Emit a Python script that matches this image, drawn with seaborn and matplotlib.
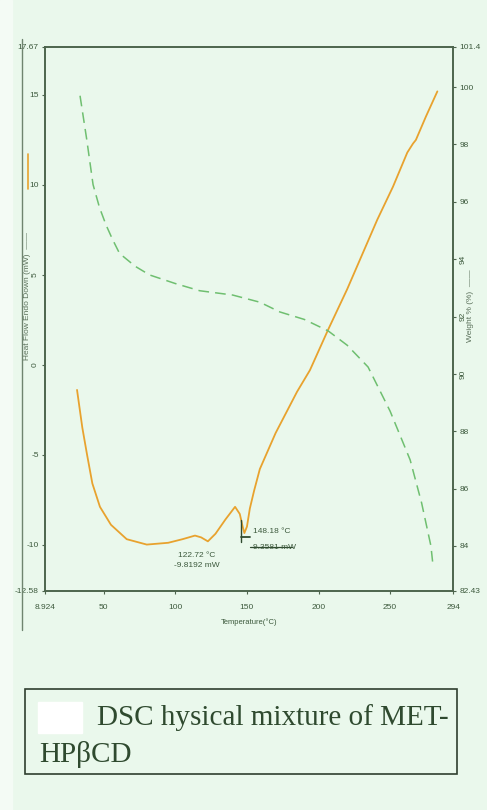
import matplotlib
matplotlib.use("Agg")
import matplotlib.pyplot as plt
from matplotlib.lines import Line2D
from matplotlib.patches import Rectangle
import numpy as np
import pandas as pd
import seaborn as sns

# heat flow (mW)
hf_temp = [31.3, 35, 38.3, 42, 47.3, 55, 66, 80, 95, 105, 113.7, 118, 122.7, 128, 135,
           141.7, 145, 147, 148.2, 150, 152, 155, 159, 170, 185, 194, 206.7, 220, 241,
           252, 262, 266, 268, 275, 283]
hf_value = [-1.4, -3.5, -5.0, -6.6, -7.9, -8.9, -9.7, -10.0, -9.9, -9.7, -9.5, -9.6, -9.82,
            -9.4, -8.6, -7.9, -8.3, -9.0, -9.36, -9.0, -8.0, -7.0, -5.8, -3.8, -1.5, -0.3,
            1.95, 4.2, 8.06, 9.9, 11.8, 12.3, 12.5, 13.8, 15.2]

# weight %
wt_temp = [33.4, 38, 42.5, 47, 51.5, 56, 61, 72, 82, 100, 117, 140, 159, 173, 190,
           206.7, 220, 234.6, 250, 264, 272, 278.5, 280]
wt_value = [99.7, 98.2, 96.6, 95.8, 95.2, 94.7, 94.2, 93.75, 93.45, 93.15, 92.9, 92.75,
            92.5, 92.16, 91.9, 91.5, 91.0, 90.24, 88.7, 87.0, 85.5, 84.0, 83.3]

x_ticks = [8.924, 50, 100, 150, 200, 250, 294]
x_labels = ["8.924", "50", "100", "150", "200", "250", "294"]
hf_ticks = [-12.58, -10, -5, 0, 5, 10, 15, 17.67]
hf_labels = ["-12.58", "-10", "-5", "0", "5", "10", "15", "17.67"]
wt_ticks = [82.43, 84, 86, 88, 90, 92, 94, 96, 98, 100, 101.4]
wt_labels = ["82.43", "84", "86", "88", "90", "92", "94", "96", "98", "100", "101.4"]

peaks = [(122.72, -9.8192), (148.18, -9.3581)]

bg = "#eaf8ec"
frame = "#4d654d"
txt = "#3d5a3d"
orange = "#e8a22e"
green = "#6fbf70"
dark = "#2f4a2f"

sns.set_style("ticks")
plt.rcParams["font.family"] = ["Liberation Sans", "DejaVu Sans"]

hf = pd.DataFrame({"T": hf_temp, "HF": hf_value})
wt = pd.DataFrame({"T": wt_temp, "W": wt_value})

fig = plt.figure(figsize=(4.87, 8.10), dpi=100, facecolor=bg)
fig.patches.append(Rectangle((0, 0), 0.025, 1, transform=fig.transFigure,
                             color="#f4fbf5", zorder=0))
ax = fig.add_axes([0.0924, 0.2704, 0.838, 0.6716])
ax.set_facecolor(bg)
ax2 = ax.twinx()

sns.lineplot(data=hf, x="T", y="HF", ax=ax, color=orange, lw=1.3)
sns.lineplot(data=wt, x="T", y="W", ax=ax2, color=green, lw=1.1,
             linestyle=(0, (7, 4)))

ax.set_xlim(x_ticks[0], x_ticks[-1])
ax.set_ylim(hf_ticks[0], hf_ticks[-1])
ax2.set_ylim(wt_ticks[0], wt_ticks[-1])

ax.set_xticks(x_ticks)
ax.set_xticklabels(x_labels)
ax.set_yticks(hf_ticks)
ax.set_yticklabels(hf_labels)
ax2.set_yticks(wt_ticks)
ax2.set_yticklabels(wt_labels)

for a in (ax, ax2):
    for s in a.spines.values():
        s.set_color(frame)
        s.set_linewidth(1.2)
    a.tick_params(colors=frame, labelcolor=txt, labelsize=6, length=2.5, width=0.8,
                  pad=2)
ax.tick_params(axis="x", pad=7)

# middle labels come out rotated in the source print
for lab in ax.get_yticklabels():
    if lab.get_text() in ("5", "0"):
        lab.set_rotation(90)
        lab.set_va("center")
for lab in ax2.get_yticklabels():
    if lab.get_text() in ("94", "92", "90"):
        lab.set_rotation(90)
        lab.set_va("center")

ax.set_xlabel("Temperature(°C)", fontsize=5.5, color=txt, labelpad=5)
ax.set_ylabel("")
ax2.set_ylabel("")

fig.text(0.057, 0.634, "Heat Flow Endo Down (mW)  ——", rotation=90, fontsize=6,
         color="#5a705a", ha="center", va="center")
fig.text(0.966, 0.623, "Weight % (%)  ——", rotation=90, fontsize=6,
         color="#5a705a", ha="center", va="center")
fig.add_artist(Line2D([0.057, 0.057], [0.767, 0.810], color=orange, lw=1.2,
                      transform=fig.transFigure))
fig.add_artist(Line2D([0.045, 0.045], [0.222, 0.952], color="#6f846f", lw=1.0,
                      transform=fig.transFigure))

# peak labels
t1, v1 = peaks[0]
ax.text(t1 - 8, v1 - 0.6, f"{t1:.2f} °C\n{v1:.4f} mW", fontsize=6, color=txt,
        ha="center", va="top", linespacing=1.6)
t2, v2 = peaks[1]
ax.plot([t2 - 2.3, t2 - 2.3], [v2 + 0.75, v2 - 0.5], color=dark, lw=1.0)
ax.plot([t2 - 2.3, t2 + 4], [v2 - 0.2, v2 - 0.2], color=dark, lw=1.3)
ax.text(t2 + 6, v2 + 0.1, f"{t2:.2f} °C", fontsize=6, color=txt, ha="left", va="center")
ax.text(t2 + 6, v2 - 0.8, f"{-v2:.4f} mW", fontsize=6, color=txt, ha="left",
        va="center")
ax.plot([t2 + 4, t2 + 33], [v2 - 0.8, v2 - 0.8], color=dark, lw=0.9)

# caption box
fig.patches.append(Rectangle((0.051, 0.044), 0.887, 0.106, transform=fig.transFigure,
                             fill=False, ec="#2f3f2f", lw=1.2))
fig.patches.append(Rectangle((0.078, 0.095), 0.090, 0.038, transform=fig.transFigure,
                             color="white", zorder=3))
fig.text(0.200, 0.105, "DSC hysical mixture of MET-", fontsize=21, color=dark,
         family="Liberation Serif")
fig.text(0.080, 0.059, "HPβCD", fontsize=21, color=dark, family="Liberation Serif")

fig.savefig("out.png", dpi=100, facecolor=bg)
